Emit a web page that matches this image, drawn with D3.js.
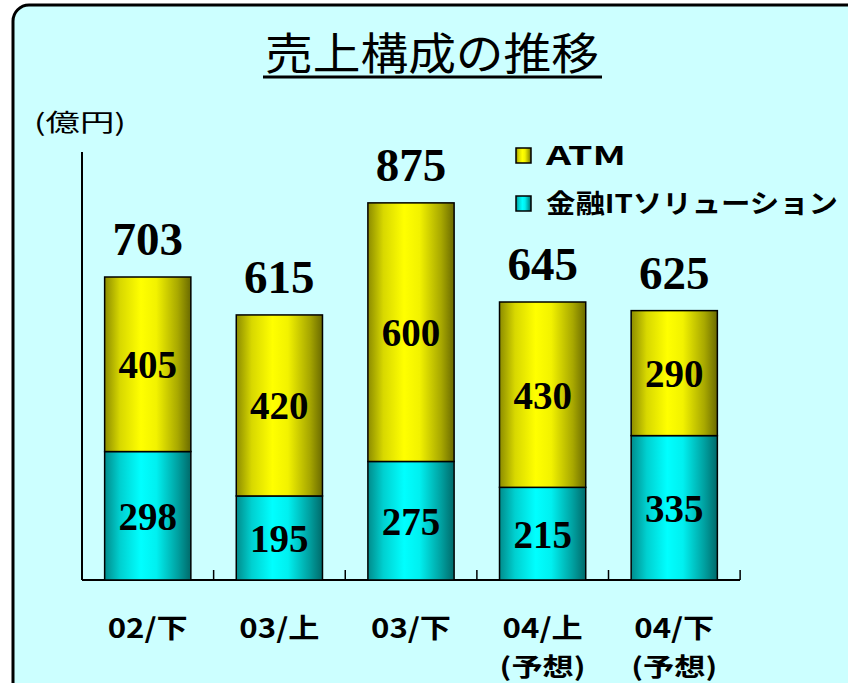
<!DOCTYPE html>
<html>
<head>
<meta charset="utf-8">
<script src="https://cdn.jsdelivr.net/npm/d3@7"></script>
<style>
  html, body { margin: 0; padding: 0; background: #fff; }
  svg { display: block; }
</style>
</head>
<body>
<svg id="chart" width="848" height="683"></svg>
<script>
// data
const periods = ['02/下', '03/上', '03/下', '04/上', '04/下'];
const periodNotes = ['', '', '', '(予想)', '(予想)'];
const finIT = [298, 195, 275, 215, 335];
const atm = [405, 420, 600, 430, 290];
const totals = [703, 615, 875, 645, 625];
const seriesNames = ['ATM', '金融ITソリューション'];

const svg = d3.select('#chart');
const jp = '"Noto Sans CJK JP", "Noto Sans", sans-serif';
const serif = '"Liberation Serif", "DejaVu Serif", serif';

// gradients for the bars
const defs = svg.append('defs');
const grad = (id, stops) => {
  const g = defs.append('linearGradient').attr('id', id)
    .attr('x1', '0%').attr('x2', '100%').attr('y1', '0%').attr('y2', '0%');
  stops.forEach(s => g.append('stop').attr('offset', s[0]).attr('stop-color', s[1]));
};
grad('gYellow', [[0, '#8c8c00'], [0.18, '#d8d800'], [0.42, '#ffff00'], [0.6, '#f2f200'], [0.85, '#a8a800'], [1, '#6a6a00']]);
grad('gCyan', [[0, '#008c8c'], [0.18, '#00d0d0'], [0.42, '#00ffff'], [0.6, '#00f0f0'], [0.85, '#00a0a0'], [1, '#006a6a']]);

// panel
svg.append('rect')
  .attr('x', 13).attr('y', 5).attr('width', 860).attr('height', 700)
  .attr('rx', 16)
  .attr('fill', '#ccffff')
  .attr('stroke', '#000').attr('stroke-width', 3);

// title
svg.append('text')
  .attr('x', 432).attr('y', 70)
  .attr('text-anchor', 'middle')
  .attr('font-family', jp).attr('font-size', 44)
  .attr('textLength', 334).attr('lengthAdjust', 'spacingAndGlyphs')
  .text('売上構成の推移');
svg.append('line')
  .attr('x1', 263).attr('x2', 602).attr('y1', 77).attr('y2', 77)
  .attr('stroke', '#000').attr('stroke-width', 3);

svg.append('text')
  .attr('x', 34).attr('y', 131)
  .attr('font-family', jp).attr('font-size', 24)
  .attr('textLength', 92).attr('lengthAdjust', 'spacingAndGlyphs')
  .text('(億円)');

// scales
const x = d3.scaleBand().domain(periods).range([82, 740]).paddingInner(0.345).paddingOuter(0.172);
const y = d3.scaleLinear().domain([0, 1000]).range([580, 149]);

// axes
svg.append('line').attr('x1', 82).attr('x2', 82).attr('y1', y(993)).attr('y2', y(0))
  .attr('stroke', '#000').attr('stroke-width', 2);
svg.append('line').attr('x1', 82).attr('x2', 740).attr('y1', y(0)).attr('y2', y(0))
  .attr('stroke', '#000').attr('stroke-width', 2);
const step = x.step();
periods.forEach((p, i) => {
  const tx = 82 + step * (i + 1);
  svg.append('line').attr('x1', tx).attr('x2', tx).attr('y1', y(0) - 10).attr('y2', y(0))
    .attr('stroke', '#000').attr('stroke-width', 1.5);
});

// bars
const stack = periods.map((p, i) => ({ p, fin: finIT[i], atm: atm[i], total: totals[i], note: periodNotes[i] }));
const bars = svg.append('g');
bars.selectAll('rect.fin').data(stack).enter().append('rect')
  .attr('x', d => x(d.p)).attr('width', x.bandwidth())
  .attr('y', d => y(d.fin)).attr('height', d => y(0) - y(d.fin))
  .attr('fill', 'url(#gCyan)').attr('stroke', '#000').attr('stroke-width', 1.5);
bars.selectAll('rect.atm').data(stack).enter().append('rect')
  .attr('x', d => x(d.p)).attr('width', x.bandwidth())
  .attr('y', d => y(d.fin + d.atm)).attr('height', d => y(d.fin) - y(d.fin + d.atm))
  .attr('fill', 'url(#gYellow)').attr('stroke', '#000').attr('stroke-width', 1.5);

const cx = d => x(d.p) + x.bandwidth() / 2;
const lbl = svg.append('g').attr('font-family', serif).attr('font-weight', 'bold')
  .attr('text-anchor', 'middle').attr('fill', '#000');
lbl.selectAll('text.fin').data(stack).enter().append('text')
  .attr('x', cx).attr('y', d => (y(0) + y(d.fin)) / 2 + 14)
  .attr('font-size', 39).text(d => d.fin);
lbl.selectAll('text.atm').data(stack).enter().append('text')
  .attr('x', cx).attr('y', d => (y(d.fin) + y(d.fin + d.atm)) / 2 + 14)
  .attr('font-size', 39).text(d => d.atm);
lbl.selectAll('text.tot').data(stack).enter().append('text')
  .attr('x', cx).attr('y', d => y(d.total) - 22)
  .attr('font-size', 47).text(d => d.total);

// category labels
const cat = svg.append('g').attr('font-family', jp).attr('font-weight', 'bold')
  .attr('text-anchor', 'middle');
cat.selectAll('text.p').data(stack).enter().append('text')
  .attr('x', cx).attr('y', 638).attr('font-size', 27)
  .attr('textLength', 80).attr('lengthAdjust', 'spacingAndGlyphs')
  .text(d => d.p);
cat.selectAll('text.n').data(stack.filter(d => d.note)).enter().append('text')
  .attr('x', cx).attr('y', 676).attr('font-size', 25)
  .attr('textLength', 86).attr('lengthAdjust', 'spacingAndGlyphs')
  .text(d => d.note);

// legend
const legend = svg.append('g');
const legendFill = ['url(#gYellow)', 'url(#gCyan)'];
const legendWidth = [80, 292];
seriesNames.forEach((name, i) => {
  const ly = 148 + i * 48;
  legend.append('rect').attr('x', 516).attr('y', ly).attr('width', 15).attr('height', 15)
    .attr('fill', legendFill[i]).attr('stroke', '#000').attr('stroke-width', 1.5);
  legend.append('text').attr('x', 546).attr('y', ly + 17)
    .attr('font-family', jp).attr('font-weight', 'bold').attr('font-size', 26)
    .attr('textLength', legendWidth[i]).attr('lengthAdjust', 'spacingAndGlyphs')
    .text(name);
});
</script>
</body>
</html>
